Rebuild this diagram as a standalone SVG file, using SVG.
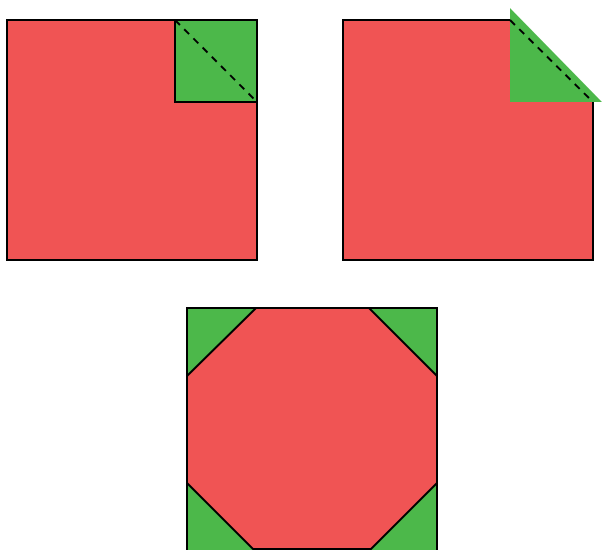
<svg xmlns="http://www.w3.org/2000/svg" width="602" height="550" viewBox="0 0 602 550">
<style>
.red{fill:#f05454;stroke:#000;stroke-width:2}
.grn{fill:#4cb84a;stroke:#000;stroke-width:2}
.gnf{fill:#4cb84a;stroke:none}
.dash{stroke:#000;stroke-width:2;stroke-dasharray:7,6;fill:none}
</style>
<rect width="602" height="550" fill="#fff"/>
<g id="left">
<rect class="red" x="7" y="20" width="250" height="240"/>
<rect class="grn" x="175" y="20" width="82" height="82"/>
<line class="dash" x1="175" y1="20" x2="257" y2="102"/>
</g>
<g id="right">
<path class="red" d="M510,20 H343 V260 H593 V102"/>
<polygon class="gnf" points="510,8 510,102 602,102"/>
<line class="dash" x1="510" y1="20" x2="593" y2="102"/>
</g>
<g id="bottom">
<rect class="grn" x="187" y="308" width="250" height="260"/>
<polygon class="red" points="256,308 369,308 437,376 437,483 371,549 253,549 187,483 187,376"/>
</g>
</svg>
